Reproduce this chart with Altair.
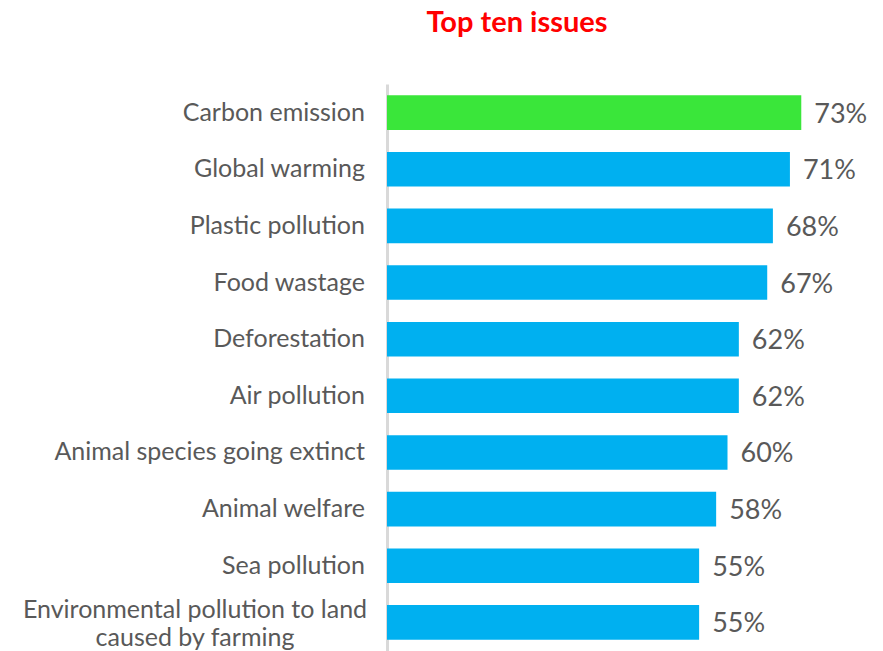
import altair as alt
import pandas as pd

issues = [
    "Carbon emission",
    "Global warming",
    "Plastic pollution",
    "Food wastage",
    "Deforestation",
    "Air pollution",
    "Animal species going extinct",
    "Animal welfare",
    "Sea pollution",
    "Environmental pollution to land caused by farming",
]
label_lines = [
    ["Carbon emission"],
    ["Global warming"],
    ["Plastic pollution"],
    ["Food wastage"],
    ["Deforestation"],
    ["Air pollution"],
    ["Animal species going extinct"],
    ["Animal welfare"],
    ["Sea pollution"],
    ["Environmental pollution to land", "caused by farming"],
]
values = [73, 71, 68, 67, 62, 62, 60, 58, 55, 55]
highlight = [True, False, False, False, False, False, False, False, False, False]

df = pd.DataFrame({
    "issue": issues,
    "value": values,
    "hl": highlight,
    "label": [f"{v}%" for v in values],
})

LINE_H = 28
single_rows, multi_rows = [], []
for iss, lines in zip(issues, label_lines):
    n = len(lines)
    for i, ln in enumerate(lines):
        row = {"issue": iss, "text": ln, "off": (i - (n - 1) / 2) * LINE_H}
        (single_rows if n == 1 else multi_rows).append(row)
single_df = pd.DataFrame(single_rows)
multi_df = pd.DataFrame(multi_rows)

FONT = "Lato"
TXT = "#595959"

y_scale = alt.Scale(domain=issues, paddingInner=0.39, paddingOuter=0.2)

bars = alt.Chart(df).mark_bar().encode(
    y=alt.Y(
        "issue:N",
        sort=issues,
        scale=y_scale,
        axis=alt.Axis(
            title=None,
            ticks=False,
            labels=False,
            domain=True,
            domainColor="#d9d9d9",
            domainWidth=3,
        ),
    ),
    x=alt.X("value:Q", scale=alt.Scale(domain=[0, 80]), axis=None),
    color=alt.Color(
        "hl:N",
        scale=alt.Scale(domain=[True, False], range=["#3AE63A", "#00B0F0"]),
        legend=None,
    ),
)

text = alt.Chart(df).mark_text(
    align="left", baseline="middle", dx=13, dy=2,
    font=FONT, fontSize=27, color=TXT,
).encode(
    y=alt.Y("issue:N", sort=issues, scale=y_scale),
    x=alt.X("value:Q"),
    text="label:N",
)

ylabels = alt.Chart(single_df).mark_text(
    align="right", baseline="middle",
    font=FONT, fontSize=25, color=TXT,
).encode(
    y=alt.Y("issue:N", sort=issues, scale=y_scale),
    x=alt.value(-22),
    text="text:N",
)

ylabels_multi = alt.Chart(multi_df).mark_text(
    align="center", baseline="middle", dy=19,
    font=FONT, fontSize=25, color=TXT,
).encode(
    y=alt.Y("issue:N", sort=issues, scale=y_scale),
    yOffset=alt.YOffset("off:Q", scale=None),
    x=alt.value(-192),
    text="text:N",
)

chart = (
    alt.layer(bars, text, ylabels, ylabels_multi)
    .properties(
        width=454,
        height=567,
        background="white",
        title=alt.TitleParams(
            text="Top ten issues",
            color="#FF0000",
            font=FONT,
            fontSize=29,
            fontWeight="bold",
            anchor="middle",
            dx=-97,
            offset=46,
        ),
        autosize=alt.AutoSizeParams(type="none"),
        padding={"left": 387, "top": 84, "right": 42, "bottom": 0},
    )
    .configure_view(strokeWidth=0, stroke=None)
)

chart.save("out.html", embed_options={"renderer": "svg", "actions": False})
